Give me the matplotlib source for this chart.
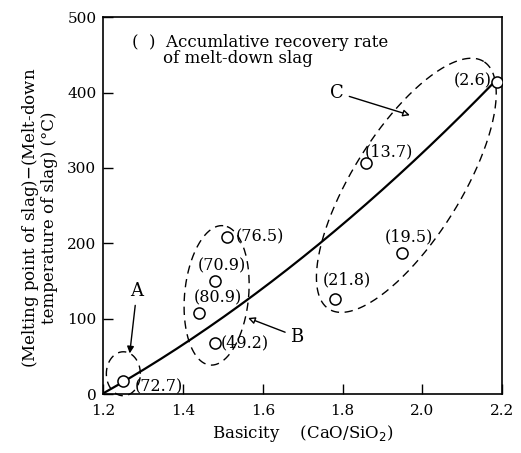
import numpy as np
import matplotlib
matplotlib.use("Agg")
import matplotlib.pyplot as plt

# measured points (basicity, temperature difference) and their recovery rates
basicity = [1.25, 1.44, 1.48, 1.48, 1.51, 1.78, 1.95, 1.86, 2.187]
temp_diff = [17, 108, 150, 68, 208, 126, 187, 307, 414]
recovery = ["(72.7)", "(80.9)", "(70.9)", "(49.2)", "(76.5)",
            "(21.8)", "(19.5)", "(13.7)", "(2.6)"]
# label offsets in pixels relative to each point
label_dx = [11, -5, -17, 6, 9, -12, -18, -2, -5]
label_dy = [-6, 15, 15, 0, 0, 19, 16, 11, 1]
label_ha = ["left"] * 8 + ["right"]

# trend curve
curve_x = [1.2, 1.25, 1.42, 1.56, 1.64, 1.74, 1.9, 2.04, 2.17, 2.187]
curve_y = [0, 19, 72, 125, 153, 200, 270, 346, 408, 414]

# group ellipses: center (data), semi axes (px), angle (deg)
groups = {
    "A": ((1.25, 27), 17, 22, 0),
    "B": ((1.484, 131), 70, 32, 84.6),
    "C": ((1.96, 277), 146, 54, 58),
}

plt.rcParams["font.family"] = "DejaVu Serif"


def ellipse_points(ax, center, a, b, angle):
    # build the ellipse in pixel space, then map back to data units
    fig = ax.figure
    bbox = ax.get_position()
    w_px = bbox.width * fig.get_figwidth() * fig.dpi
    h_px = bbox.height * fig.get_figheight() * fig.dpi
    x0, x1 = ax.get_xlim()
    y0, y1 = ax.get_ylim()
    sx = (x1 - x0) / w_px
    sy = (y1 - y0) / h_px
    t = np.linspace(0, 2 * np.pi, 300)
    th = np.radians(angle)
    px = a * np.cos(t) * np.cos(th) - b * np.sin(t) * np.sin(th)
    py = a * np.cos(t) * np.sin(th) + b * np.sin(t) * np.cos(th)
    return center[0] + px * sx, center[1] + py * sy


def main():
    fig = plt.figure(figsize=(5.21, 4.53), dpi=100)
    ax = fig.add_axes([0.1985, 0.130, 0.765, 0.832])
    ax.set_xlim(1.2, 2.2)
    ax.set_ylim(0, 500)

    coef = np.polyfit(curve_x, curve_y, 2)
    xs = np.linspace(1.2, 2.187, 200)
    ax.plot(xs, np.polyval(coef, xs), color="black", lw=1.6)

    ax.plot(basicity, temp_diff, "o", mfc="white", mec="black",
            mew=1.1, ms=8, zorder=5)
    for x, y, lab, dx, dy, ha in zip(basicity, temp_diff, recovery,
                                     label_dx, label_dy, label_ha):
        ax.annotate(lab, (x, y), xytext=(dx, dy), textcoords="offset pixels",
                    ha=ha, va="center", fontsize=11.5)

    for name, (c, a, b, ang) in groups.items():
        ex, ey = ellipse_points(ax, c, a, b, ang)
        ax.plot(ex, ey, color="black", lw=1.0, ls=(0, (6, 4)), clip_on=False)

    arrow = dict(arrowstyle="-|>", color="black", lw=1.0,
                 mutation_scale=10, shrinkA=2, shrinkB=0)
    ax.annotate("A", xy=(1.266, 54), xytext=(1.284, 137), ha="center",
                va="center", fontsize=13, arrowprops=arrow)
    ax.annotate("B", xy=(1.563, 101), xytext=(1.686, 76), ha="center",
                va="center", fontsize=13,
                arrowprops=dict(arrow, fc="white"))
    ax.annotate("C", xy=(1.969, 370), xytext=(1.786, 400), ha="center",
                va="center", fontsize=13,
                arrowprops=dict(arrow, fc="white"))

    ax.text(1.272, 467, "(  )  Accumlative recovery rate", fontsize=12,
            va="center")
    ax.text(1.349, 445, "of melt-down slag", fontsize=12, va="center")

    ax.set_xticks([1.2, 1.4, 1.6, 1.8, 2.0, 2.2])
    ax.set_xticklabels(["1.2", "1.4", "1.6", "1.8", "2.0", "2.2"])
    ax.set_yticks([0, 100, 200, 300, 400, 500])
    ax.tick_params(direction="in", length=7, width=1.0, labelsize=11)
    ax.tick_params(axis="x", pad=7)
    ax.tick_params(axis="y", pad=5)
    for s in ax.spines.values():
        s.set_linewidth(1.2)

    ax.set_xlabel("Basicity    (CaO/SiO$_2$)", fontsize=12, labelpad=4)
    fig.text(0.075, 0.52,
             "(Melting point of slag)$-$(Melt-down\n"
             "temperature of slag) (°C)",
             rotation=90, ha="center", va="center", fontsize=12,
             linespacing=1.0)

    fig.savefig("out.png", dpi=100)


if __name__ == "__main__":
    main()
